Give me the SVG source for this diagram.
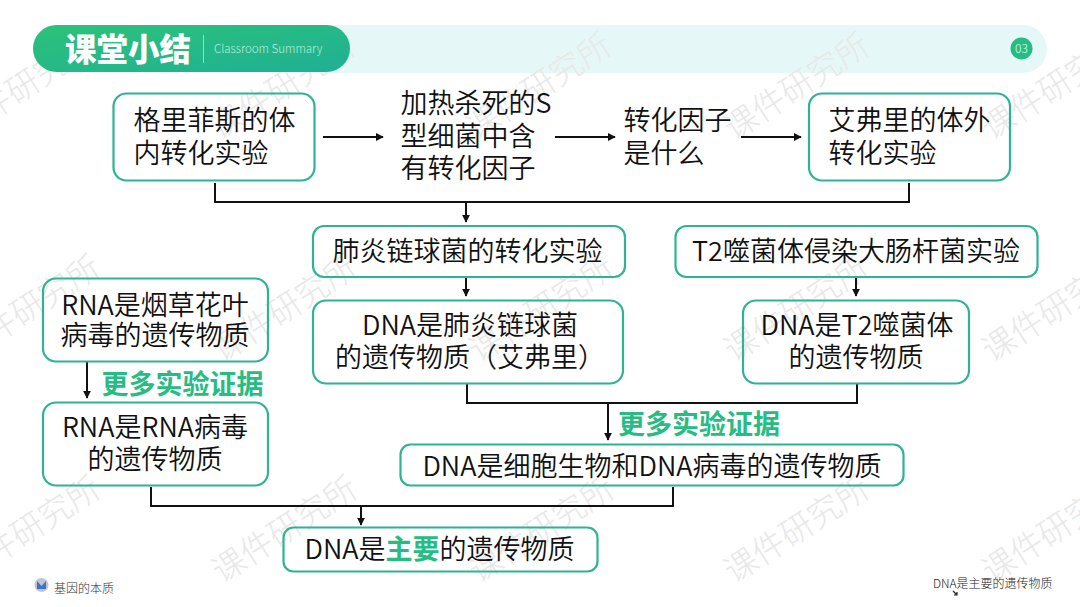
<svg xmlns="http://www.w3.org/2000/svg" width="1080" height="607" viewBox="0 0 1080 607">
<style>
text{font-family:"Noto Sans CJK SC","Noto Sans",sans-serif;fill:#111}
.t{font-size:27px;font-weight:350}
.m{text-anchor:middle}
.box{fill:none;stroke:#2fb393;stroke-width:2.2}
.g{fill:#25bd83;font-weight:700;font-size:27px}
.w{font-size:33px;fill:#e8e8e8;text-anchor:middle;font-weight:300}
.c{fill:none;stroke:#111;stroke-width:2}
</style>
<defs>
<linearGradient id="hd" x1="0" y1="0" x2="1" y2="1"><stop offset="0" stop-color="#2cc27a"/><stop offset="1" stop-color="#1fb094"/></linearGradient>
<marker id="a" viewBox="0 0 10 10" refX="9" refY="5" markerWidth="8" markerHeight="8" markerUnits="userSpaceOnUse" orient="auto"><path d="M0 0L10 5L0 10Z" fill="#111"/></marker>
</defs>
<rect width="1080" height="607" fill="#fff"/>
<g id="header">
<rect x="300" y="25" width="747" height="48" rx="24" fill="#e5f8f7"/>
</g>
<g id="watermarks">
<text class="w" transform="translate(23 87) rotate(-33)" y="11">课件研究所</text>
<text class="w" transform="translate(283 87) rotate(-33)" y="11">课件研究所</text>
<text class="w" transform="translate(539 87) rotate(-33)" y="11">课件研究所</text>
<text class="w" transform="translate(797 87) rotate(-33)" y="11">课件研究所</text>
<text class="w" transform="translate(1055 87) rotate(-33)" y="11">课件研究所</text>
<text class="w" transform="translate(28 309) rotate(-33)" y="11">课件研究所</text>
<text class="w" transform="translate(285 309) rotate(-33)" y="11">课件研究所</text>
<text class="w" transform="translate(542 309) rotate(-33)" y="11">课件研究所</text>
<text class="w" transform="translate(797 309) rotate(-33)" y="11">课件研究所</text>
<text class="w" transform="translate(1055 309) rotate(-33)" y="11">课件研究所</text>
<text class="w" transform="translate(28 530) rotate(-33)" y="11">课件研究所</text>
<text class="w" transform="translate(285 530) rotate(-33)" y="11">课件研究所</text>
<text class="w" transform="translate(542 530) rotate(-33)" y="11">课件研究所</text>
<text class="w" transform="translate(797 530) rotate(-33)" y="11">课件研究所</text>
<text class="w" transform="translate(1055 530) rotate(-33)" y="11">课件研究所</text>
</g>
<g id="title">
<rect x="33" y="25" width="317" height="47" rx="23.500" fill="url(#hd)"/>
<text x="65" y="61" font-size="31.500" font-weight="900" style="fill:#fff">课堂小结</text>
<rect x="203" y="35" width="1" height="28" fill="#8fe0c0"/>
<text x="214" y="53" font-size="11.500" font-weight="300" style="fill:#bdeedb">Classroom Summary</text>
<circle cx="1021.500" cy="48.500" r="11" fill="#25bd83"/>
<text x="1021.500" y="53" font-size="12" font-weight="300" class="m" style="fill:#e6fff5">03</text>
</g>
<g id="connectors">
<path class="c" d="M323 137H383" marker-end="url(#a)"/>
<path class="c" d="M555 137H615" marker-end="url(#a)"/>
<path class="c" d="M741 137H801" marker-end="url(#a)"/>
<path class="c" d="M215 183V202H909V183"/>
<path class="c" d="M466 202V222" marker-end="url(#a)"/>
<path class="c" d="M466 277V296" marker-end="url(#a)"/>
<path class="c" d="M856 278V296" marker-end="url(#a)"/>
<path class="c" d="M87 362V398" marker-end="url(#a)"/>
<path class="c" d="M467 384V403H857V384"/>
<path class="c" d="M608 403V440" marker-end="url(#a)"/>
<path class="c" d="M151 487V506H673V487"/>
<path class="c" d="M361 506V525" marker-end="url(#a)"/>
</g>
<g id="n1"><rect class="box" x="113.500" y="93.500" width="201" height="87" rx="13"/><text class="t" x="133.500" y="130">格里菲斯的体</text><text class="t" x="133.500" y="163">内转化实验</text></g>
<g id="n2"><text class="t" x="400.500" y="113">加热杀死的S</text><text class="t" x="400.500" y="146">型细菌中含</text><text class="t" x="400.500" y="178">有转化因子</text></g>
<g id="n3"><text class="t" x="623.500" y="130">转化因子</text><text class="t" x="623.500" y="163">是什么</text></g>
<g id="n4"><rect class="box" x="809" y="93.500" width="201" height="87" rx="13"/><text class="t" x="828.500" y="130">艾弗里的体外</text><text class="t" x="828.500" y="163">转化实验</text></g>
<g id="n5"><rect class="box" x="313" y="226" width="312" height="51" rx="11"/><text class="t m" x="467.500" y="261">肺炎链球菌的转化实验</text></g>
<g id="n6"><rect class="box" x="675.500" y="226" width="362" height="51" rx="11"/><text class="t m" x="856" y="261">T2噬菌体侵染大肠杆菌实验</text></g>
<g id="n7"><rect class="box" x="43" y="278.500" width="225" height="83" rx="13"/><text class="t m" x="155" y="315">RNA是烟草花叶</text><text class="t m" x="155" y="345">病毒的遗传物质</text></g>
<g id="n8"><rect class="box" x="313" y="300.500" width="310" height="83" rx="13"/><text class="t m" x="470" y="335">DNA是肺炎链球菌</text><text class="t m" x="470" y="367">的遗传物质（艾弗里）</text></g>
<g id="n9"><rect class="box" x="743" y="300.500" width="226" height="83" rx="13"/><text class="t m" x="857" y="335">DNA是T2噬菌体</text><text class="t m" x="856" y="367">的遗传物质</text></g>
<g id="l1"><text class="g" x="101.500" y="394">更多实验证据</text></g>
<g id="n10"><rect class="box" x="43" y="402.500" width="225" height="83" rx="13"/><text class="t m" x="155" y="437">RNA是RNA病毒</text><text class="t m" x="155" y="469">的遗传物质</text></g>
<g id="l2"><text class="g" x="618" y="434">更多实验证据</text></g>
<g id="n11"><rect class="box" x="400.500" y="444.500" width="503" height="41" rx="10"/><text class="t m" x="652" y="476">DNA是细胞生物和DNA病毒的遗传物质</text></g>
<g id="n12"><rect class="box" x="283.500" y="527.500" width="314" height="44" rx="10"/><text class="t" x="304.500" y="559">DNA是<tspan style="fill:#25bd83;font-weight:700">主要</tspan>的遗传物质</text></g>
<g id="footer">
<circle cx="41.500" cy="585" r="7" fill="#bfc6d2"/><path d="M37 581L41.500 586L46 581V589H37Z" fill="#3f74c4"/>
<text x="54" y="593" font-size="12" font-weight="300" style="fill:#333">基因的本质</text>
<text x="933" y="588" font-size="12" font-weight="300" style="fill:#222">DNA是主要的遗传物质</text>
<path d="M953 591L957 595M957 592V595H954" fill="none" stroke="#222" stroke-width="1.200"/>
</g>
</svg>
